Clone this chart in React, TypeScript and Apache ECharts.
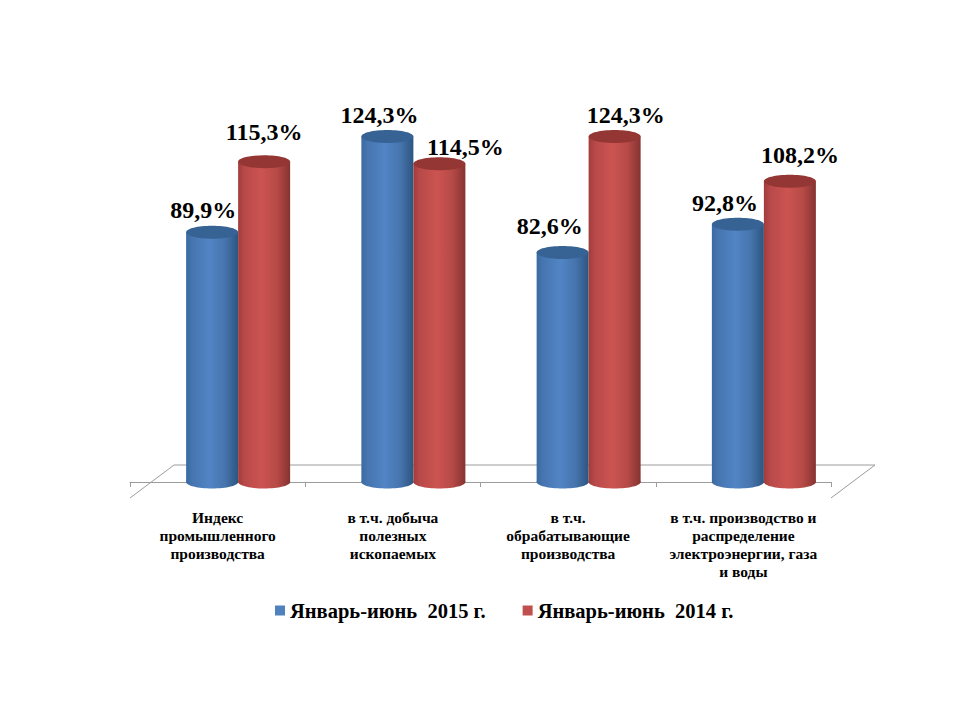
import React, { useEffect, useRef } from "react";
import * as echarts from "echarts";

const categories = [
  "Индекс\nпромышленного\nпроизводства",
  "в т.ч. добыча\nполезных\nископаемых",
  "в т.ч.\nобрабатывающие\nпроизводства",
  "в т.ч. производство и\nраспределение\nэлектроэнергии, газа\nи воды",
];
const values2015 = [89.9, 124.3, 82.6, 92.8];
const values2014 = [115.3, 114.5, 124.3, 108.2];
const name2015 = "Январь-июнь  2015 г.";
const name2014 = "Январь-июнь  2014 г.";

// Hand-placed label offsets from the top centre of each cylinder (dx, dy)
const labelOffsets2015 = [[-9, -22], [-8, -22], [-13, -26], [-13, -21]];
const labelOffsets2014 = [[0, -30], [26, -17], [11, -22], [10, -26]];

const SERIF = '"Liberation Serif", "Times New Roman", serif';
const RX = 26;
const RY = 6.5;
const DEPTH_SHIFT = 20.5;

function gradient(stops: [number, string][]) {
  return new echarts.graphic.LinearGradient(
    0, 0, 1, 0,
    stops.map(([offset, color]) => ({ offset, color }))
  );
}

const blueBody = gradient([[0, "#3a6aa3"], [0.12, "#4675b0"], [0.45, "#5285c5"], [0.75, "#4674ad"], [1, "#2c5580"]]);
const redBody = gradient([[0, "#a03c3a"], [0.12, "#b8494a"], [0.45, "#cc5450"], [0.75, "#b64a47"], [1, "#853331"]]);

function cylinder(
  side: number,
  body: any,
  topColor: string,
  offsets: number[][]
) {
  return (params: any, api: any) => {
    const cat = api.value(0);
    const val = api.value(1);
    const top = api.coord([cat, val]);
    const base = api.coord([cat, 0]);
    const cx = top[0] + DEPTH_SHIFT + side * RX;
    const [dx, dy] = offsets[params.dataIndex];
    return {
      type: "group",
      children: [
        { type: "ellipse", shape: { cx, cy: base[1], rx: RX, ry: RY }, style: { fill: body } },
        { type: "rect", shape: { x: cx - RX, y: top[1], width: RX * 2, height: base[1] - top[1] }, style: { fill: body } },
        { type: "ellipse", shape: { cx, cy: top[1], rx: RX, ry: RY }, style: { fill: topColor } },
        {
          type: "text",
          x: cx + dx,
          y: top[1] + dy,
          style: {
            text: String(val).replace(".", ",") + "%",
            fill: "#000",
            font: `bold 24px ${SERIF}`,
            align: "center",
            verticalAlign: "middle",
          },
        },
      ],
    };
  };
}

export default function App() {
  const ref = useRef<HTMLDivElement>(null);
  useEffect(() => {
    const chart = echarts.init(ref.current!, null, { renderer: "svg" });
    chart.setOption({
      animation: false,
      backgroundColor: "#fff",
      grid: { left: 130, width: 701, top: 93, height: 389 },
      legend: {
        left: 270,
        top: 595,
        itemWidth: 10,
        itemHeight: 10,
        itemGap: 37,
        icon: "rect",
        textStyle: { fontFamily: SERIF, fontWeight: "bold", fontSize: 20.5, color: "#000" },
        data: [name2015, name2014],
      },
      xAxis: {
        type: "category",
        data: categories,
        offset: 16,
        axisLine: { lineStyle: { color: "#9c9c9c", width: 1 } },
        axisTick: { show: true, length: 5, lineStyle: { color: "#9c9c9c" } },
        axisLabel: {
          interval: 0,
          margin: 10,
          fontFamily: SERIF,
          fontWeight: "bold",
          fontSize: 15.5,
          lineHeight: 18,
          color: "#000",
        },
      },
      yAxis: { type: "value", min: 0, max: 140, show: false },
      graphic: [
        {
          type: "polyline",
          silent: true,
          z: -1,
          shape: { points: [[130, 498], [174, 465], [875, 465], [831, 498]] },
          style: { stroke: "#9c9c9c", lineWidth: 1, fill: "none" },
        },
      ],
      series: [
        {
          name: name2015,
          type: "custom",
          clip: false,
          z: 2,
          itemStyle: { color: "#4f81bd" },
          encode: { x: 0, y: 1 },
          data: values2015.map((v, i) => [i, v]),
          renderItem: cylinder(-1, blueBody, "#366394", labelOffsets2015),
        },
        {
          name: name2014,
          type: "custom",
          clip: false,
          z: 3,
          itemStyle: { color: "#c0504d" },
          encode: { x: 0, y: 1 },
          data: values2014.map((v, i) => [i, v]),
          renderItem: cylinder(1, redBody, "#943634", labelOffsets2014),
        },
      ],
    });
    return () => chart.dispose();
  }, []);
  return <div ref={ref} style={{ position: "absolute", left: 0, top: 0, width: 960, height: 720 }} />;
}
